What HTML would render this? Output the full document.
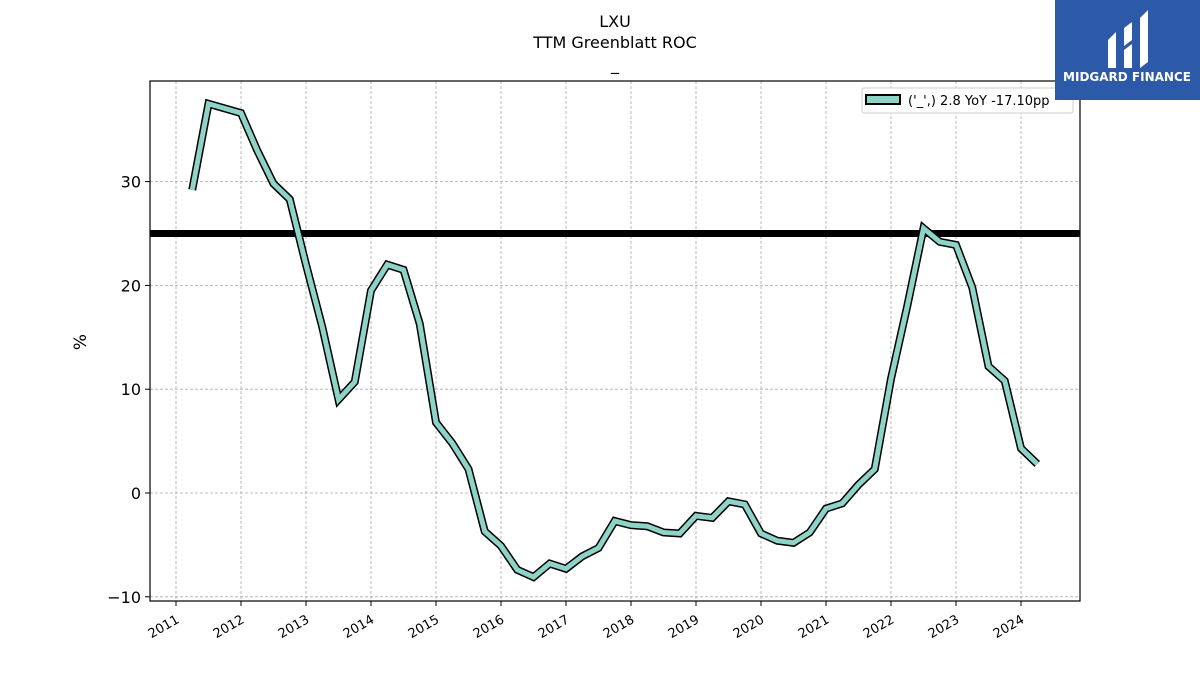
<!DOCTYPE html>
<html><head><meta charset="utf-8"><style>
body{margin:0;background:#fff;width:1200px;height:675px;overflow:hidden;font-family:"Liberation Sans","DejaVu Sans",sans-serif}
</style></head><body>
<svg id="chart" width="1200" height="675" xmlns="http://www.w3.org/2000/svg" font-family="DejaVu Sans, Liberation Sans, sans-serif">
<text x="615" y="27" text-anchor="middle" font-size="16">LXU</text>
<text x="615" y="48" text-anchor="middle" font-size="16">TTM Greenblatt ROC</text>
<text x="615" y="70" text-anchor="middle" font-size="16">_</text>
<g id="grid"></g>
<g id="axes"></g>
<g id="series"></g>
<rect x="150" y="81" width="930" height="520" fill="none" stroke="#000" stroke-width="1.2"/>
<text transform="translate(86,342) rotate(-90)" text-anchor="middle" font-size="17">%</text>
<g>
<rect x="862" y="88" width="211" height="25" fill="#fff" stroke="#ccc" rx="2"/>
<rect x="866" y="95" width="34" height="9" fill="#8dd3c7" stroke="#000" stroke-width="2"/>
<text x="908" y="105" font-size="13">('_',) 2.8 YoY -17.10pp</text>
</g>
<g>
<rect x="1055" y="0" width="145" height="100" fill="#2c5aa8"/>
<path d="M1108 40 L1116 32 L1116 68 L1108 68 Z M1124 28 L1132 22 L1132 40 L1124 46 Z M1124 50 L1132 44 L1132 68 L1124 68 Z M1140 18 L1148 10 L1148 62 L1140 68 Z" fill="#fff"/>
<text x="1127" y="81" text-anchor="middle" font-size="12" font-weight="bold" fill="#fff">MIDGARD FINANCE</text>
</g>
</svg>
<script>
const years=[2011,2012,2013,2014,2015,2016,2017,2018,2019,2020,2021,2022,2023,2024];
const yTicks=[-10,0,10,20,30];
const dates=[2011.25,2011.5,2012,2012.25,2012.5,2012.75,2013,2013.25,2013.5,2013.75,2014,2014.25,2014.5,2014.75,2015,2015.25,2015.5,2015.75,2016,2016.25,2016.5,2016.75,2017,2017.25,2017.5,2017.75,2018,2018.25,2018.5,2018.75,2019,2019.25,2019.5,2019.75,2020,2020.25,2020.5,2020.75,2021,2021.25,2021.5,2021.75,2022,2022.25,2022.5,2022.75,2023,2023.25,2023.5,2023.75,2024,2024.25];
const values=[29.2,37.5,36.6,33,29.8,28.3,22,16,9,10.7,19.5,22,21.5,16.3,6.8,4.8,2.3,-3.7,-5.1,-7.4,-8.1,-6.8,-7.3,-6.1,-5.3,-2.7,-3.1,-3.2,-3.8,-3.9,-2.2,-2.4,-0.8,-1.1,-3.9,-4.6,-4.8,-3.8,-1.5,-1.0,0.8,2.3,11,18,25.5,24.2,23.9,19.8,12.2,10.8,4.3,2.8];
const refLine=25;
const NS="http://www.w3.org/2000/svg";
const X=v=>176+(v-2011)*65.0;
const Y=v=>493-v*10.38;
function mk(t,a,p){const e=document.createElementNS(NS,t);for(const k in a)e.setAttribute(k,a[k]);p.appendChild(e);return e;}
const g=document.getElementById('grid'),ax=document.getElementById('axes'),s=document.getElementById('series');
years.forEach(yr=>{
 const l=mk('line',{x1:X(yr),x2:X(yr),y1:81,y2:601,stroke:'#aaa','stroke-dasharray':'3,2','stroke-width':0.8},g);
 
 
 const tk=mk('line',{x1:X(yr),x2:X(yr),y1:601,y2:606,stroke:'#000'},ax);
 
 
 const t=mk('text',{x:X(yr)+4,y:622,'font-size':13,'text-anchor':'end',transform:`rotate(-30 ${X(yr)+4} 622)`},ax);
 t.textContent=yr;
 
 
});
yTicks.forEach(v=>{
 const l=mk('line',{x1:150,x2:1080,y1:Y(v),y2:Y(v),stroke:'#aaa','stroke-dasharray':'3,2','stroke-width':0.8},g);
 
 
 const tk=mk('line',{x1:145,x2:150,y1:Y(v),y2:Y(v),stroke:'#000'},ax);
 
 
 const t=mk('text',{x:141,y:Y(v)+6,'font-size':16,'text-anchor':'end'},ax);
 t.textContent=v<0?'\u2212'+(-v):v;
 
 
});
const rl=mk('line',{x1:150,x2:1080,y1:Y(refLine),y2:Y(refLine),stroke:'#000','stroke-width':7},s);


const pts=dates.map((d,i)=>X(d)+','+Y(values[i])).join(' ');
const o=mk('polyline',{points:pts,fill:'none',stroke:'#000','stroke-width':8},s);


const ln=mk('polyline',{points:pts,fill:'none',stroke:'#8dd3c7','stroke-width':5},s);


</script>
</body></html>
